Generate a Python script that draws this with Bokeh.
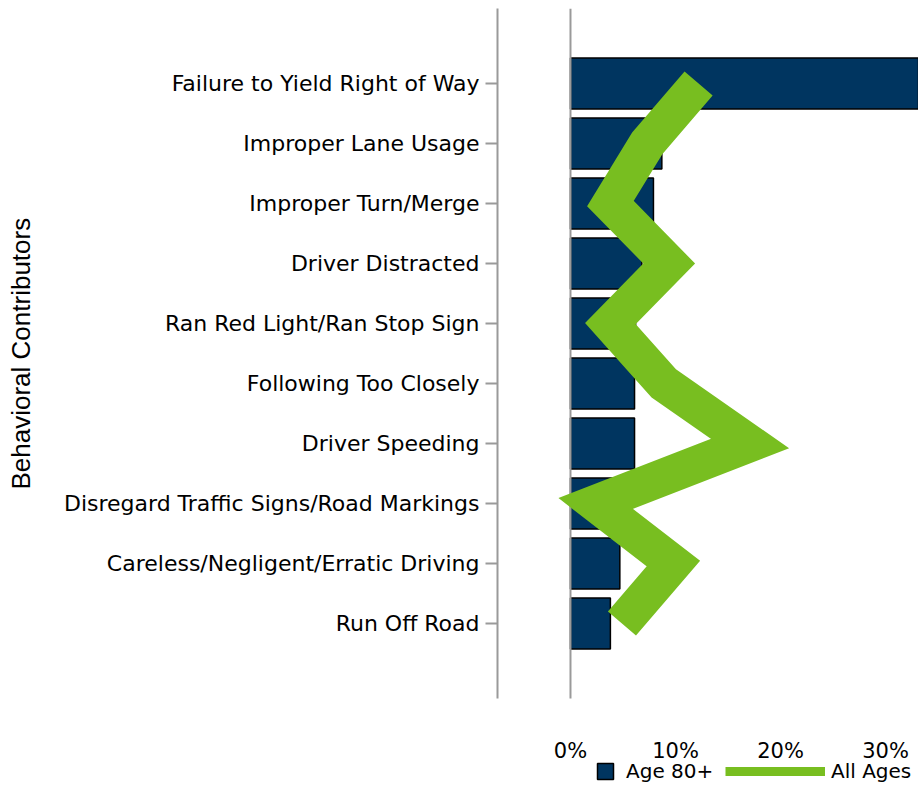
from bokeh.plotting import figure
from bokeh.models import (Range1d, Legend, LegendItem, FixedTicker, ColumnDataSource)
from bokeh.core.properties import value
from bokeh.embed import file_html
from bokeh.resources import INLINE

categories = ["Failure to Yield Right of Way", "Improper Lane Usage", "Improper Turn/Merge",
              "Driver Distracted", "Ran Red Light/Ran Stop Sign", "Following Too Closely",
              "Driver Speeding", "Disregard Traffic Signs/Road Markings",
              "Careless/Negligent/Erratic Driving", "Run Off Road"]
age_80_plus = [36.0, 8.7, 7.9, 6.8, 6.2, 6.1, 6.1, 5.5, 4.7, 3.8]
all_ages = [12.2, 7.3, 3.8, 9.4, 3.8, 8.9, 17.1, 2.4, 9.8, 4.9]
x_ticks = [0, 10, 20, 30]
x_tick_labels = ["0%", "10%", "20%", "30%"]
y_title = "Behavioral Contributors"

FONT = "DejaVu Sans"
TITLE_FONT = "Liberation Sans"
NAVY = "#003560"
GREEN = "#78BE20"
GREY = "#9a9a9a"

# category positions: first category at the top
ypos = list(range(len(categories)))[::-1]
Y_TOP = len(categories) - 1 + 1.25
Y_AXIS_BOTTOM = -1.25
Y_FRAME_BOTTOM = Y_TOP - 777 / 60.0
Y_TICKLABEL = Y_TOP - (750 - 8) / 60.0

p = figure(width=918, height=785, output_backend="svg", toolbar_location=None,
           x_axis_location=None,
           y_range=Range1d(Y_FRAME_BOTTOM, Y_TOP),
           x_range=Range1d(-6.95, 33.14),
           min_border_left=497, min_border_right=0, min_border_top=8, min_border_bottom=0)
p.outline_line_color = None
p.xgrid.visible = False
p.ygrid.visible = False

src = ColumnDataSource(dict(y=ypos, v80=age_80_plus, va=all_ages))
bars = p.hbar(y="y", left=0, right="v80", height=0.85, source=src,
              fill_color=NAVY, line_color="black", line_width=1.5)

# 0% reference line
p.segment(x0=[0], y0=[Y_AXIS_BOTTOM], x1=[0], y1=[Y_TOP], line_color=GREY, line_width=2)

p.line(x="va", y="y", source=src, line_color=GREEN, line_width=37,
       line_join="miter", line_cap="butt")
nan = float("nan")
legend_line = p.line(x=[nan, nan], y=[nan, nan], line_color=GREEN, line_width=9)

# x tick labels
p.text(x=x_ticks, y=[Y_TICKLABEL] * len(x_ticks), text=x_tick_labels,
       text_font=value(FONT), text_font_size="21px", text_color="black",
       text_align="center", text_baseline="middle")

# y axis
ya = p.yaxis[0]
ya.ticker = FixedTicker(ticks=ypos)
ya.major_label_overrides = {y: c for y, c in zip(ypos, categories)}
ya.bounds = (Y_AXIS_BOTTOM, Y_TOP)
ya.minor_tick_line_color = None
ya.axis_line_color = GREY
ya.axis_line_width = 2
ya.major_tick_line_color = GREY
ya.major_tick_line_width = 2
ya.major_tick_out = 12
ya.major_tick_in = 0
ya.major_label_standoff = 6
ya.major_label_text_font = FONT
ya.major_label_text_font_size = "22px"
ya.major_label_text_color = "black"
# leading no-break spaces centre the title on the axis extent instead of the full frame
ya.axis_label = "\u00a0" * 12 + y_title
ya.axis_label_text_font = TITLE_FONT
ya.axis_label_text_font_size = "26px"
ya.axis_label_text_font_style = "normal"
ya.axis_label_text_color = "black"
ya.axis_label_standoff = 25

common = dict(orientation="horizontal", padding=0, margin=0, border_line_color=None,
              background_fill_alpha=0, label_text_font=FONT, label_text_font_size="20px",
              label_text_color="black", label_height=24, spacing=0)
leg1 = Legend(items=[LegendItem(label="Age 80+", renderers=[bars])],
              location=(98, 2), glyph_width=20, glyph_height=20, label_standoff=11, **common)
leg2 = Legend(items=[LegendItem(label="All Ages", renderers=[legend_line])],
              location=(228, 2), glyph_width=100, glyph_height=16, label_standoff=6, **common)
p.add_layout(leg1, "center")
p.add_layout(leg2, "center")

open("out.html", "w").write(file_html(p, INLINE))
